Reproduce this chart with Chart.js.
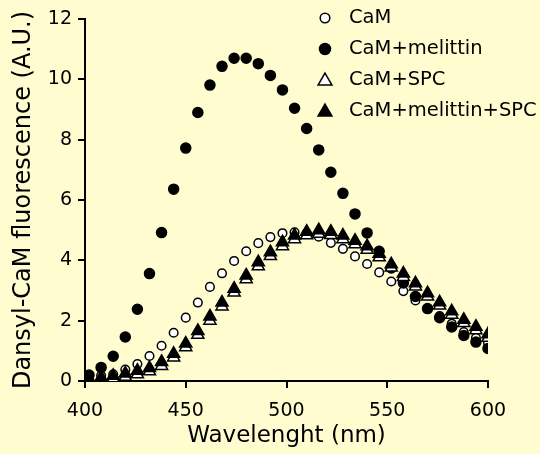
<!DOCTYPE html>
<html>
<head>
<meta charset="utf-8">
<script src="https://cdn.jsdelivr.net/npm/chart.js@4"></script>
<style>
  html, body { margin: 0; padding: 0; background: #fffdd0; }
  #wrap { width: 540px; height: 454px; }
</style>
</head>
<body>
<div id="wrap"><canvas id="fluorChart"></canvas></div>
<script>
// emission wavelengths (nm)
const wavelengths = [402, 408, 414, 420, 426, 432, 438, 444, 450, 456, 462, 468, 474, 480, 486, 492, 498,
                     504, 510, 516, 522, 528, 534, 540, 546, 552, 558, 564, 570, 576, 582, 588, 594, 600];

const camValues = [0.12, 0.18, 0.22, 0.38, 0.56, 0.83, 1.17, 1.6, 2.1, 2.6, 3.12, 3.57, 3.98, 4.3, 4.57, 4.77, 4.9,
                   4.93, 4.9, 4.78, 4.58, 4.38, 4.13, 3.88, 3.6, 3.3, 2.98, 2.67, 2.4, 2.15, 1.9, 1.62, 1.43, 1.27];

const camMelittinValues = [0.2, 0.45, 0.82, 1.46, 2.38, 3.56, 4.92, 6.36, 7.72, 8.9, 9.81, 10.43, 10.7, 10.7, 10.52, 10.13, 9.65,
                           9.04, 8.37, 7.66, 6.92, 6.22, 5.54, 4.91, 4.3, 3.75, 3.25, 2.8, 2.4, 2.1, 1.79, 1.51, 1.29, 1.08];

const camSpcValues = [0.0, 0.04, 0.08, 0.14, 0.22, 0.32, 0.5, 0.78, 1.12, 1.53, 2.0, 2.47, 2.93, 3.37, 3.8, 4.14, 4.47,
                      4.7, 4.83, 4.88, 4.84, 4.7, 4.53, 4.35, 4.1, 3.76, 3.45, 3.13, 2.8, 2.5, 2.2, 1.92, 1.68, 1.43];

const camMelittinSpcValues = [0.08, 0.12, 0.17, 0.25, 0.34, 0.43, 0.63, 0.9, 1.24, 1.66, 2.14, 2.6, 3.06, 3.5, 3.94, 4.27, 4.6,
                              4.82, 4.95, 5.0, 4.95, 4.82, 4.65, 4.47, 4.22, 3.87, 3.56, 3.24, 2.91, 2.61, 2.31, 2.03, 1.8, 1.55];

const seriesLabels = ['CaM', 'CaM+melittin', 'CaM+SPC', 'CaM+melittin+SPC'];
const xTicks = [400, 450, 500, 550, 600];
const yTicks = [0, 2, 4, 6, 8, 10, 12];
const xTitle = 'Wavelenght (nm)';
const yTitle = 'Dansyl-CaM fluorescence (A.U.)';

const BG = '#fffdd0';
const FONT = 'DejaVu Sans';

const toPoints = vals => wavelengths.map((w, i) => ({ x: w, y: vals[i] }));

const markerStyles = [
    { pointStyle: 'circle', radius: 4.3, fill: '#ffffff' },
    { pointStyle: 'circle', radius: 5, fill: '#000000' },
    { pointStyle: 'triangle', radius: 7, fill: '#ffffff' },
    { pointStyle: 'triangle', radius: 7, fill: '#000000' }
];
const allValues = [camValues, camMelittinValues, camSpcValues, camMelittinSpcValues];
const drawOrder = [3, 2, 1, 0]; // lower = drawn on top

const bgPlugin = {
    id: 'bgFill',
    beforeDraw(chart) {
        const c = chart.ctx;
        c.save();
        c.fillStyle = BG;
        c.fillRect(0, 0, chart.width, chart.height);
        c.restore();
    }
};

const insetLegend = {
    id: 'insetLegend',
    afterDraw(chart) {
        const { ctx, chartArea } = chart;
        const mx = chartArea.right - 163;
        const tx = chartArea.right - 139;
        ctx.save();
        ctx.font = '19.5px "' + FONT + '"';
        ctx.textBaseline = 'middle';
        ctx.textAlign = 'left';
        seriesLabels.forEach((label, i) => {
            const y = chartArea.top - 1 + i * 31;
            const m = markerStyles[i];
            ctx.fillStyle = m.fill;
            ctx.strokeStyle = '#000';
            ctx.lineWidth = 1.5;
            Chart.helpers.drawPoint(ctx, {
                pointStyle: m.pointStyle,
                radius: m.pointStyle === 'triangle' ? 8 : m.radius + 0.5,
                rotation: 0,
                borderWidth: 1.5
            }, mx, m.pointStyle === 'triangle' ? y + 1 : y);
            ctx.fillStyle = '#000';
            ctx.fillText(label, tx, y);
        });
        ctx.restore();
    }
};

new Chart(document.getElementById('fluorChart'), {
    type: 'scatter',
    data: {
        datasets: seriesLabels.map((label, i) => ({
            label: label,
            data: toPoints(allValues[i]),
            pointStyle: markerStyles[i].pointStyle,
            pointRadius: markerStyles[i].radius,
            pointHoverRadius: markerStyles[i].radius,
            backgroundColor: markerStyles[i].fill,
            borderColor: '#000000',
            borderWidth: 1.5,
            showLine: false,
            order: drawOrder[i]
        }))
    },
    options: {
        responsive: true,
        maintainAspectRatio: false,
        animation: false,
        layout: { padding: { top: 19, right: 52, left: 0, bottom: 0 } },
        plugins: {
            legend: { display: false },
            tooltip: { enabled: false }
        },
        scales: {
            x: {
                type: 'linear',
                min: 400,
                max: 600,
                afterBuildTicks: scale => { scale.ticks = xTicks.map(v => ({ value: v })); },
                afterFit: scale => { scale.height = 73; },
                ticks: { color: '#000', font: { family: FONT, size: 19 }, padding: 12 },
                grid: { drawOnChartArea: false, color: '#000', lineWidth: 2, tickLength: 7 },
                border: { color: '#000', width: 2 },
                title: {
                    display: true, text: xTitle, color: '#000',
                    font: { family: FONT, size: 23 }, padding: { top: 0, bottom: 4 }
                }
            },
            y: {
                type: 'linear',
                min: 0,
                max: 12,
                afterBuildTicks: scale => { scale.ticks = yTicks.map(v => ({ value: v })); },
                afterFit: scale => { scale.width = 85; },
                ticks: { color: '#000', font: { family: FONT, size: 19 }, padding: 6 },
                grid: { drawOnChartArea: false, color: '#000', lineWidth: 2, tickLength: 7 },
                border: { color: '#000', width: 2 },
                title: {
                    display: true, text: yTitle, color: '#000',
                    font: { family: FONT, size: 24 }, padding: { top: 9, bottom: 0 }
                }
            }
        }
    },
    plugins: [bgPlugin, insetLegend]
});
</script>
</body>
</html>
